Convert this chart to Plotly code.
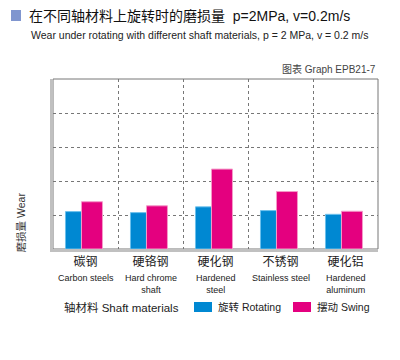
import plotly.graph_objects as go

categories_cn = ["碳钢", "硬铬钢", "硬化钢", "不锈钢", "硬化铝"]
categories_en = ["Carbon steels", "Hard chrome<br>shaft", "Hardened<br>steel", "Stainless steel", "Hardened<br>aluminum"]
rotating = [1.10, 1.07, 1.24, 1.13, 1.02]
swing = [1.39, 1.27, 2.35, 1.69, 1.11]
series_names = ["旋转 Rotating", "摆动 Swing"]

FONT = "Liberation Sans, Arial, Noto Sans CJK SC, sans-serif"
BLUE = "#0088D2"
PINK = "#E4007F"

PH = 169.5  # plot height in px (for paper-coordinate offsets)
PW = 325.0

fig = go.Figure()
fig.add_trace(go.Bar(x=categories_cn, y=rotating, name=series_names[0],
                     marker=dict(color=BLUE, line=dict(color="#6CC0EC", width=1)),
                     offset=-0.308, width=0.246, showlegend=False))
fig.add_trace(go.Bar(x=categories_cn, y=swing, name=series_names[1],
                     marker=dict(color=PINK, line=dict(color="#F49AC8", width=1)),
                     offset=-0.062, width=0.323, showlegend=False))

annotations = [
    dict(text="在不同轴材料上旋转时的磨损量  p=2MPa, v=0.2m/s", xref="paper", yref="paper",
         x=-26 / PW, y=1 + 63 / PH, xanchor="left", yanchor="middle", showarrow=False,
         font=dict(size=14, color="#111")),
    dict(text="Wear under rotating with different shaft materials, p = 2 MPa, v = 0.2 m/s",
         xref="paper", yref="paper", x=-24 / PW, y=1 + 44 / PH, xanchor="left",
         yanchor="middle", showarrow=False, font=dict(size=10.5, color="#222")),
    dict(text="图表 Graph EPB21-7", xref="paper", yref="paper", x=1, y=1 + 10 / PH,
         xanchor="right", yanchor="middle", showarrow=False,
         font=dict(size=10, color="#444")),
    dict(text="磨损量 Wear", xref="paper", yref="paper", x=-32 / PW, y=(248.5 - 222) / PH,
         xanchor="center", yanchor="middle", textangle=-90, showarrow=False,
         font=dict(size=10.5, color="#333")),
    dict(text="轴材料 Shaft materials", xref="paper", yref="paper", x=9 / PW, y=-58 / PH,
         xanchor="left", yanchor="middle", showarrow=False,
         font=dict(size=11.5, color="#222")),
    dict(text=series_names[0], xref="paper", yref="paper", x=163 / PW, y=-58 / PH,
         xanchor="left", yanchor="middle", showarrow=False,
         font=dict(size=10.5, color="#222")),
    dict(text=series_names[1], xref="paper", yref="paper", x=262 / PW, y=-58 / PH,
         xanchor="left", yanchor="middle", showarrow=False,
         font=dict(size=10.5, color="#222")),
]
for c, e in zip(categories_cn, categories_en):
    annotations.append(dict(text=e, xref="x", yref="paper", x=c, y=-22 / PH,
                            xanchor="center", yanchor="top", showarrow=False,
                            font=dict(size=9, color="#222")))

fig.update_layout(
    width=400, height=360,
    margin=dict(l=53, r=22, t=79, b=111, autoexpand=False),
    paper_bgcolor="white", plot_bgcolor="white",
    barmode="overlay",
    font=dict(family=FONT, color="#222", size=11),
    xaxis=dict(type="category", tickvals=categories_cn, ticktext=categories_cn,
               tickson="boundaries", ticks="", tickangle=0, automargin=False,
               ticklabelstandoff=0,
               showgrid=True, gridcolor="#777",
               griddash="dot", gridwidth=1, showline=True, linecolor="#C0C0C0",
               linewidth=3, tickfont=dict(family=FONT, size=12, color="#222"),
               range=[-0.5, 4.5]),
    yaxis=dict(range=[0, 5], dtick=1, showticklabels=False, ticks="", automargin=False,
               showgrid=True, gridcolor="#777", griddash="dot", gridwidth=1,
               zeroline=False, showline=True, linecolor="#C0C0C0", linewidth=3),
    shapes=[
        dict(type="rect", xref="paper", yref="paper", x0=0, x1=1, y0=0, y1=1,
             line=dict(color="#777", width=1), layer="below"),
        dict(type="rect", xref="paper", yref="paper", xsizemode="pixel", ysizemode="pixel",
             xanchor=0, yanchor=1, x0=-42, x1=-32, y0=69, y1=58,
             fillcolor="#8096CF", line=dict(width=0)),
        dict(type="rect", xref="paper", yref="paper", xsizemode="pixel", ysizemode="pixel",
             xanchor=0, yanchor=0, x0=141, x1=159, y0=-53, y1=-63,
             fillcolor=BLUE, line=dict(width=0)),
        dict(type="rect", xref="paper", yref="paper", xsizemode="pixel", ysizemode="pixel",
             xanchor=0, yanchor=0, x0=240, x1=258, y0=-53, y1=-63,
             fillcolor=PINK, line=dict(width=0)),
    ],
    annotations=annotations,
)

fig.write_html("out.html", post_script="document.body.style.margin='0';",
               config={"displayModeBar": False})
